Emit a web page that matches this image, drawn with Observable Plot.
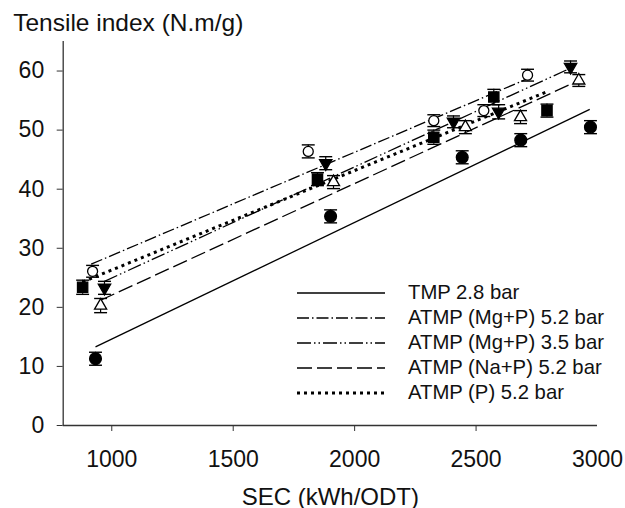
<!DOCTYPE html>
<html><head><meta charset="utf-8">
<script src="https://cdn.jsdelivr.net/npm/d3@7"></script>
<script src="https://cdn.jsdelivr.net/npm/@observablehq/plot@0.6"></script>
<style>
body{margin:0;background:#fff;font-family:"Liberation Sans",Arial,sans-serif;}
#wrap{position:relative;width:625px;height:508px;}
#legend{position:absolute;left:297px;top:280px;font-size:20.3px;color:#111;line-height:1;}
.row{display:flex;align-items:center;height:25px;}
.row svg{margin-right:23px;display:block;}
</style></head><body><div id="wrap"></div>
<script>
// ---- data ----
const seriesNames = ["TMP 2.8 bar","ATMP (Mg+P) 5.2 bar","ATMP (Mg+P) 3.5 bar","ATMP (Na+P) 5.2 bar","ATMP (P) 5.2 bar"];
// SEC (kWh/ODT)
const secTMP   = [933, 1901, 2443, 2684, 2971];
const secMgP52 = [921, 1809, 2326, 2532, 2712];
const secMgP35 = [970, 1881, 2407, 2593, 2889];
const secNaP52 = [954, 1913, 2456, 2683, 2923];
const secP52   = [880, 1847, 2326, 2573, 2792];
// Tensile index (N.m/g)
const tiTMP   = [11.3, 35.4, 45.4, 48.3, 50.5];
const tiMgP52 = [26.1, 46.4, 51.6, 53.3, 59.3];
const tiMgP35 = [23.3, 44.4, 51.4, 53.1, 60.7];
const tiNaP52 = [20.3, 41.2, 50.5, 52.2, 58.4];
const tiP52   = [23.4, 41.7, 48.8, 55.6, 53.3];
// error (±)
const errTMP   = [1.1, 1.1, 1.1, 1.1, 1.1];
const errMgP52 = [1.0, 1.1, 1.0, 1.0, 1.0];
const errMgP35 = [1.1, 1.1, 1.0, 1.2, 1.0];
const errNaP52 = [1.2, 1.1, 1.1, 1.1, 1.0];
const errP52   = [1.2, 1.1, 1.2, 1.3, 1.1];
// fitted line ends
const fitX1 = [933, 915, 970, 954, 880];
const fitY1 = [13.3, 27.3, 24.4, 21.2, 24.3];
const fitX2 = [2968, 2712, 2889, 2923, 2792];
const fitY2 = [53.5, 58.7, 60.5, 58.4, 56.5];
// axes
const xTickMarks = [1000, 1500, 2000, 2500];
const xTickLabels = [1000, 1500, 2000, 2500, 3000];
const yTicks = [0, 10, 20, 30, 40, 50, 60];
const yTitle = ["Tensile index (N.m/g)"];
const xTitle = ["SEC (kWh/ODT)"];

// ---- styles ----
const dashes = ["none", "12,3,1.5,3", "14,3,1.5,3,1.5,3", "15,5", "3,4"];
const widths = [1.3, 1.3, 1.3, 1.3, 3];
const triangleDown = {draw(c, size){ const y = -Math.sqrt(size/(Math.sqrt(3)*3)); c.moveTo(0, -y*2); c.lineTo(-Math.sqrt(3)*y, y); c.lineTo(Math.sqrt(3)*y, y); c.closePath(); }};
const capSym = {draw(c, size){ const w = Math.sqrt(size); c.moveTo(-w/2, 0); c.lineTo(w/2, 0); }};
const markers = [
  {symbol:"circle", fill:"#000", stroke:"#000", r:5.9},
  {symbol:"circle", fill:"#fff", stroke:"#000", r:5},
  {symbol:triangleDown, fill:"#000", stroke:"#000", r:4.6},
  {symbol:"triangle", fill:"#fff", stroke:"#000", r:4.5},
  {symbol:"square", fill:"#000", stroke:"#000", r:5.8}
];

const secs = [secTMP, secMgP52, secMgP35, secNaP52, secP52];
const tis = [tiTMP, tiMgP52, tiMgP35, tiNaP52, tiP52];
const errs = [errTMP, errMgP52, errMgP35, errNaP52, errP52];
const tables = seriesNames.map((s, i) => secs[i].map((x, j) => ({s, x, y: tis[i][j], e: errs[i][j]})));

const lineMarks = seriesNames.map((s, i) => Plot.link([{x1: fitX1[i], y1: fitY1[i], x2: fitX2[i], y2: fitY2[i]}],
  {x1:"x1", y1:"y1", x2:"x2", y2:"y2", stroke:"#000", strokeWidth: widths[i], strokeDasharray: dashes[i]}));
const errMarks = tables.flatMap(t => [
  Plot.ruleX(t, {x:"x", y1: d => d.y - d.e, y2: d => d.y + d.e, stroke:"#000", strokeWidth:1.2}),
  Plot.dot(t, {x:"x", y: d => d.y + d.e, symbol: capSym, r: 7.3, stroke:"#000", strokeWidth:1.4}),
  Plot.dot(t, {x:"x", y: d => d.y - d.e, symbol: capSym, r: 7.3, stroke:"#000", strokeWidth:1.4})
]);
const dotMarks = tables.map((t, i) => Plot.dot(t, {x:"x", y:"y", symbol: markers[i].symbol, r: markers[i].r, fill: markers[i].fill, stroke: markers[i].stroke, strokeWidth:1.3}));

const chart = Plot.plot({
  width: 625, height: 508,
  marginLeft: 62.7, marginRight: 28, marginTop: 41, marginBottom: 83,
  x: {domain: [800, 3000]},
  y: {domain: [0, 65]},
  style: {fontFamily: '"Liberation Sans", Arial, sans-serif', fontSize: "23px", color: "#111", background: "#fff", overflow: "visible"},
  marks: [
    Plot.ruleY([0], {stroke:"#333", strokeWidth:1.3}),
    Plot.ruleX([800], {stroke:"#333", strokeWidth:1.3}),
    Plot.axisX(xTickMarks, {tickSize: 6, tickFormat: () => "", label: null, stroke:"#333"}),
    Plot.axisX(xTickLabels, {tickSize: 0, tickPadding: 25, tickFormat: d => String(d), label: null, fontSize: 23, fill:"#111"}),
    Plot.axisY(yTicks, {tickSize: 6, tickPadding: 13, tickFormat: d => String(d), label: null, fontSize: 23, stroke:"#333", fill:"#111"}),
    Plot.text(yTitle, {text: d => d, frameAnchor: "top-left", textAnchor: "start", lineAnchor: "bottom", dx: -50, dy: -11, fontSize: 24.5, fill:"#111"}),
    Plot.text(xTitle, {text: d => d, frameAnchor: "bottom", lineAnchor: "bottom", dy: 79, fontSize: 24, fill:"#111"}),
    ...lineMarks,
    ...errMarks,
    ...dotMarks
  ]
});
const wrap = document.getElementById("wrap");
wrap.appendChild(chart);

// legend
const legend = document.createElement("div");
legend.id = "legend";
seriesNames.forEach((s, i) => {
  const row = document.createElement("div");
  row.className = "row";
  const sw = d3.create("svg").attr("width", 88).attr("height", 25);
  sw.append("line").attr("x1", 0).attr("x2", 88).attr("y1", 13).attr("y2", 13)
    .attr("stroke", "#000").attr("stroke-width", widths[i]).attr("stroke-dasharray", dashes[i]);
  row.appendChild(sw.node());
  const lab = document.createElement("span");
  lab.textContent = s;
  row.appendChild(lab);
  legend.appendChild(row);
});
wrap.appendChild(legend);
</script></body></html>
